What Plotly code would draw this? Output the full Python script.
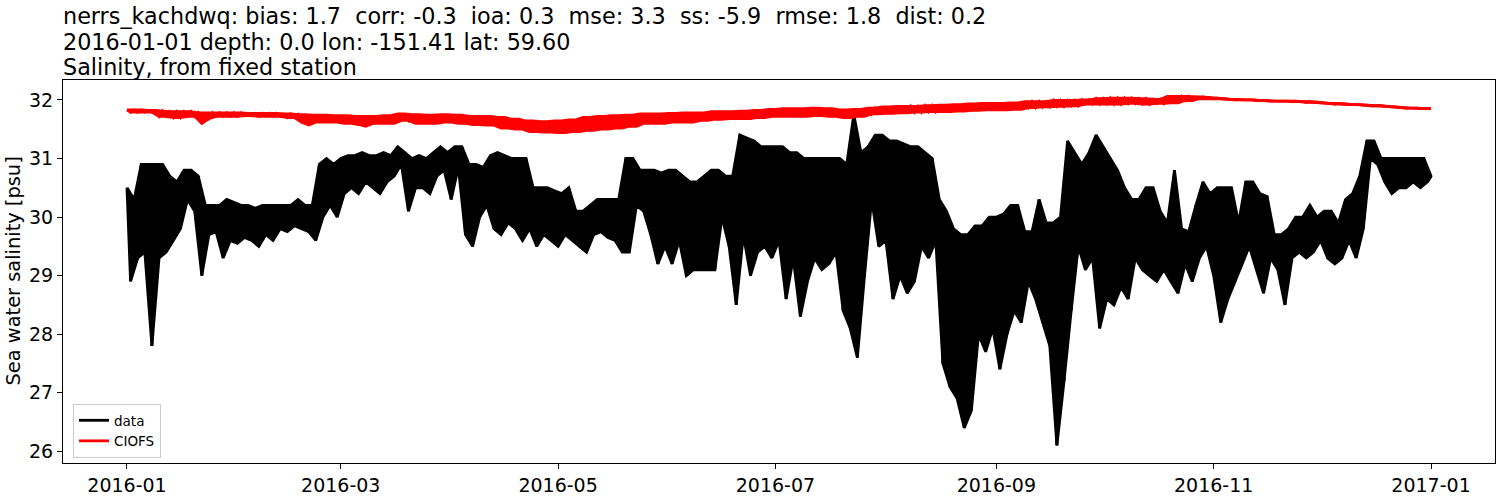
import pandas as pd
import plotly.graph_objects as go

# observed salinity (nerrs_kachdwq), envelope read off the plot every 2 days:
# highs fall on even days (0, 2, ... 366), lows on odd days (1, 3, ... 365)
data_hi = [
    30.5, 30.3, 30.9, 30.9, 30.9, 30.9, 30.7, 30.6, 30.8, 30.8,
    30.7, 30.2, 30.2, 30.2, 30.3, 30.25, 30.2, 30.2, 30.15, 30.2,
    30.2, 30.2, 30.2, 30.2, 30.3, 30.2, 30.2, 30.9, 31.0, 30.9,
    31.0, 31.05, 31.05, 31.1, 31.05, 31.05, 31.1, 31.05, 31.2, 31.1,
    31.0, 31.05, 31.0, 31.1, 31.2, 31.1, 31.2, 31.2, 30.9, 30.9,
    30.85, 31.05, 31.1, 31.05, 31.0, 31.0, 31.0, 30.5, 30.5, 30.5,
    30.45, 30.4, 30.5, 30.1, 30.1, 30.2, 30.3, 30.3, 30.3, 30.3,
    31.0, 31.0, 30.8, 30.8, 30.8, 30.75, 30.8, 30.8, 30.7, 30.6,
    30.6, 30.7, 30.8, 30.8, 30.7, 30.7, 31.4, 31.35, 31.3, 31.2,
    31.2, 31.2, 31.2, 31.1, 31.1, 31.0, 31.0, 31.0, 31.0, 31.0,
    31.0, 30.9, 31.75, 31.1, 31.2, 31.4, 31.4, 31.3, 31.3, 31.25,
    31.2, 31.2, 31.1, 31.0, 30.3, 30.1, 29.8, 29.7, 29.7, 29.85,
    29.85, 30.0, 30.0, 30.05, 30.2, 30.2, 29.75, 29.75, 30.3, 29.9,
    29.9, 30.0, 31.3, 31.1, 30.9, 31.1, 31.4, 31.2, 31.0, 30.8,
    30.5, 30.3, 30.3, 30.5, 30.5, 30.1, 29.9, 30.8, 29.8, 29.75,
    30.2, 30.6, 30.4, 30.5, 30.5, 30.5, 29.9, 30.6, 30.6, 30.4,
    30.35, 29.7, 29.7, 29.8, 30.0, 30.0, 30.2, 30.0, 30.1, 30.1,
    29.9, 30.3, 30.4, 30.7, 31.3, 31.3, 31.0, 31.0, 31.0, 31.0,
    31.0, 31.0, 31.0, 30.7,
]
data_lo = [
    28.9, 29.3, 29.4, 27.8, 29.3, 29.4, 29.6, 29.8, 30.3, 30.1,
    29.0, 29.7, 29.75, 29.3, 29.6, 29.55, 29.65, 29.6, 29.5, 29.7,
    29.6, 29.8, 29.75, 29.85, 29.8, 29.75, 29.6, 30.0, 30.2, 30.0,
    30.4, 30.5, 30.4, 30.6, 30.5, 30.4, 30.6, 30.7, 30.9, 30.1,
    30.5, 30.5, 30.4, 30.7, 30.8, 30.3, 30.85, 29.7, 29.5, 30.0,
    30.2, 29.8, 29.7, 29.9, 29.8, 29.6, 29.8, 29.5, 29.7, 29.6,
    29.5, 29.7, 29.6, 29.5, 29.4, 29.7, 29.75, 29.65, 29.6, 29.4,
    29.4, 30.2, 30.1, 29.7, 29.2, 29.5, 29.2, 29.6, 29.0, 29.1,
    29.1, 29.1, 29.1, 30.0, 29.5, 28.5, 29.7, 29.0, 29.4, 29.5,
    29.3, 29.6, 28.6, 29.3, 28.3, 28.9, 29.3, 29.1, 29.2, 29.4,
    28.4, 28.1, 27.6, 29.0, 30.3, 29.5, 29.6, 28.6, 29.0, 28.7,
    28.9, 29.5, 29.3, 29.6, 27.5, 27.1, 26.9, 26.4, 26.7, 28.0,
    27.7, 28.1, 27.4, 28.0, 28.4, 28.2, 28.9, 28.6, 28.2, 27.8,
    26.1, 27.2, 28.4, 29.5, 29.1, 29.3, 28.1, 28.6, 28.5, 28.8,
    28.6, 29.3, 29.1, 29.0, 28.9, 29.1, 28.9, 28.7, 29.2, 28.9,
    29.3, 29.5, 29.0, 28.2, 28.6, 28.9, 29.2, 29.5, 29.1, 28.7,
    29.3, 29.1, 28.5, 29.3, 29.4, 29.3, 29.4, 29.6, 29.3, 29.2,
    29.3, 29.6, 29.3, 29.8, 31.0, 30.9, 30.6, 30.4, 30.5, 30.5,
    30.6, 30.5, 30.6,
]

# CIOFS model salinity, same layout (even-day highs, odd-day lows)
model_hi = [
    31.83, 31.83, 31.83, 31.82, 31.82, 31.81, 31.80, 31.80, 31.80, 31.80,
    31.78, 31.78, 31.78, 31.78, 31.78, 31.78, 31.78, 31.77, 31.77, 31.77,
    31.77, 31.77, 31.76, 31.76, 31.75, 31.75, 31.74, 31.74, 31.74, 31.73,
    31.73, 31.73, 31.72, 31.72, 31.72, 31.72, 31.73, 31.73, 31.76, 31.76,
    31.75, 31.75, 31.74, 31.74, 31.75, 31.75, 31.74, 31.74, 31.72, 31.72,
    31.72, 31.72, 31.70, 31.70, 31.67, 31.67, 31.64, 31.64, 31.63, 31.63,
    31.64, 31.64, 31.66, 31.66, 31.70, 31.70, 31.72, 31.72, 31.73, 31.73,
    31.74, 31.74, 31.76, 31.76, 31.76, 31.76, 31.77, 31.77, 31.78, 31.78,
    31.78, 31.78, 31.80, 31.80, 31.80, 31.80, 31.81, 31.81, 31.82, 31.82,
    31.84, 31.84, 31.85, 31.85, 31.85, 31.85, 31.86, 31.86, 31.85, 31.85,
    31.83, 31.83, 31.84, 31.84, 31.86, 31.86, 31.88, 31.88, 31.89, 31.89,
    31.89, 31.89, 31.90, 31.90, 31.91, 31.91, 31.92, 31.92, 31.93, 31.93,
    31.94, 31.94, 31.94, 31.94, 31.95, 31.95, 31.97, 31.97, 31.97, 31.97,
    31.99, 31.99, 31.99, 31.99, 32.00, 32.00, 32.02, 32.02, 32.03, 32.03,
    32.03, 32.03, 32.02, 32.02, 32.01, 32.01, 32.06, 32.06, 32.06, 32.06,
    32.05, 32.05, 32.04, 32.03, 32.02, 32.01, 32.01, 32.00, 32.00, 31.99,
    31.99, 31.98, 31.98, 31.98, 31.98, 31.97, 31.97, 31.96, 31.95, 31.94,
    31.94, 31.93, 31.92, 31.92, 31.91, 31.90, 31.90, 31.89, 31.88, 31.87,
    31.86, 31.86, 31.85, 31.85,
]
model_lo = [
    31.79, 31.79, 31.79, 31.79, 31.72, 31.72, 31.70, 31.70, 31.72, 31.72,
    31.60, 31.68, 31.72, 31.72, 31.72, 31.72, 31.73, 31.73, 31.72, 31.72,
    31.72, 31.72, 31.70, 31.70, 31.62, 31.57, 31.62, 31.62, 31.62, 31.62,
    31.60, 31.60, 31.58, 31.55, 31.60, 31.60, 31.60, 31.60, 31.65, 31.65,
    31.60, 31.60, 31.60, 31.60, 31.62, 31.62, 31.60, 31.60, 31.58, 31.58,
    31.57, 31.57, 31.52, 31.52, 31.50, 31.50, 31.46, 31.46, 31.45, 31.45,
    31.44, 31.44, 31.46, 31.46, 31.48, 31.48, 31.50, 31.50, 31.52, 31.52,
    31.55, 31.55, 31.60, 31.60, 31.60, 31.60, 31.62, 31.62, 31.62, 31.62,
    31.65, 31.65, 31.67, 31.67, 31.68, 31.68, 31.68, 31.68, 31.70, 31.70,
    31.72, 31.72, 31.72, 31.72, 31.72, 31.72, 31.73, 31.73, 31.72, 31.72,
    31.70, 31.70, 31.72, 31.72, 31.76, 31.76, 31.77, 31.77, 31.78, 31.78,
    31.79, 31.79, 31.80, 31.80, 31.80, 31.80, 31.81, 31.81, 31.82, 31.82,
    31.83, 31.83, 31.83, 31.83, 31.84, 31.84, 31.87, 31.87, 31.88, 31.88,
    31.89, 31.89, 31.90, 31.90, 31.93, 31.93, 31.93, 31.93, 31.93, 31.93,
    31.94, 31.94, 31.93, 31.93, 31.94, 31.94, 31.95, 31.95, 31.99, 31.99,
    32.02, 32.02, 32.02, 32.02, 32.01, 32.00, 32.00, 32.00, 31.99, 31.99,
    31.98, 31.98, 31.98, 31.97, 31.97, 31.96, 31.96, 31.95, 31.94, 31.93,
    31.93, 31.92, 31.92, 31.91, 31.90, 31.90, 31.89, 31.88, 31.87, 31.86,
    31.86, 31.85, 31.85,
]

start_date = pd.Timestamp("2016-01-01")
x_range = ["2015-12-14 01:00", "2017-01-18 23:00"]
y_range = [25.80, 32.34]
tick_dates = ["2016-01-01", "2016-03-01", "2016-05-01", "2016-07-01",
              "2016-09-01", "2016-11-01", "2017-01-01"]
tick_labels = ["2016-01", "2016-03", "2016-05", "2016-07",
               "2016-09", "2016-11", "2017-01"]
y_ticks = [26, 27, 28, 29, 30, 31, 32]

title_lines = [
    "nerrs_kachdwq: bias: 1.7  corr: -0.3  ioa: 0.3  mse: 3.3  ss: -5.9  rmse: 1.8  dist: 0.2",
    "2016-01-01 depth: 0.0 lon: -151.41 lat: 59.60",
    "Salinity, from fixed station",
]
y_label = "Sea water salinity [psu]"

FONT = "DejaVu Sans"
LW = 2.8


def times(n, offset_days):
    return pd.date_range(start_date + pd.Timedelta(days=offset_days), periods=n, freq="2D")


def add_series(fig, hi, lo, name, color):
    t_hi = list(times(len(hi), 0))
    t_lo = list(times(len(lo), 1))
    # solid band between the highs and lows (hourly data looks like a filled band)
    fig.add_trace(go.Scatter(
        x=t_hi + t_lo[::-1], y=list(hi) + list(lo[::-1]),
        mode="lines", fill="toself", fillcolor=color,
        line=dict(color=color, width=LW, simplify=False),
        showlegend=False, hoverinfo="skip", legendgroup=name,
    ))
    # the series itself, alternating high / low readings
    xs, ys = [], []
    for i, h in enumerate(hi):
        xs.append(t_hi[i])
        ys.append(h)
        if i < len(lo):
            xs.append(t_lo[i])
            ys.append(lo[i])
    fig.add_trace(go.Scatter(
        x=xs, y=ys, mode="lines", name=name, legendgroup=name,
        line=dict(color=color, width=LW, simplify=False),
    ))


fig = go.Figure()
add_series(fig, data_hi, data_lo, "data", "black")
add_series(fig, model_hi, model_lo, "CIOFS", "red")

axis_style = dict(
    showline=True, linecolor="black", linewidth=1, mirror=True,
    ticks="outside", ticklen=5, tickwidth=1, tickcolor="black",
    showgrid=False, zeroline=False,
    tickfont=dict(family=FONT, size=19, color="black"),
)
fig.update_xaxes(range=x_range, tickvals=tick_dates, ticktext=tick_labels, **axis_style)
fig.update_yaxes(range=y_range, tickvals=y_ticks, **axis_style)

# three left-aligned title lines above the axes
for i, line in enumerate(title_lines):
    fig.add_annotation(
        text=line.replace("  ", " \u00a0"), xref="paper", yref="paper",
        x=0, y=1, xanchor="left", yanchor="middle", showarrow=False,
        xshift=-2, yshift=64 - 25.7 * i,
        font=dict(family=FONT, size=22.3, color="black"),
    )

fig.add_annotation(
    text=y_label, xref="paper", yref="paper", x=0, y=0.5,
    xanchor="center", yanchor="middle", xshift=-50, textangle=-90,
    showarrow=False, font=dict(family=FONT, size=19.4, color="black"),
)

fig.update_layout(
    width=1500, height=500,
    margin=dict(l=63, r=4, t=80, b=33),
    plot_bgcolor="white", paper_bgcolor="white",
    showlegend=True,
    legend=dict(
        x=0.007, y=0.013, xanchor="left", yanchor="bottom",
        bgcolor="rgba(255,255,255,0.8)", bordercolor="#cccccc", borderwidth=1,
        font=dict(family=FONT, size=13.5, color="black"),
        tracegroupgap=0,
    ),
)

fig.write_html("out.html", config={"displayModeBar": False},
               post_script="document.body.style.margin = '0';")
